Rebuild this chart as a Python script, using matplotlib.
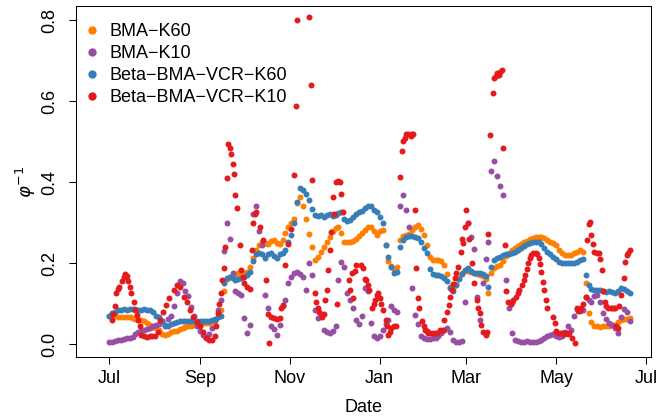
import matplotlib
matplotlib.use("Agg")
import matplotlib.pyplot as plt
from matplotlib.lines import Line2D
import numpy as np
import pandas as pd

# Season start; series are indexed by days since this date
start = pd.Timestamp("2005-07-01")

# BMA and Beta-BMA-VCR (K=60) and BMA (K=10): every second day
grid_days = np.arange(0, 356, 2)

bma_k60 = [
    0.070, 0.070, 0.069, 0.068, 0.068, 0.067, 0.067, 0.066, 0.064, 0.062,
    0.060, 0.059, 0.057, 0.052, 0.046, 0.043, 0.040, 0.034, 0.025, 0.022,
    0.025, 0.030, 0.031, 0.032, 0.036, 0.040, 0.042, 0.044, 0.045, 0.046,
    0.047, 0.049, 0.051, 0.052, 0.052, 0.054, 0.058, 0.066, 0.085, 0.130,
    0.160, 0.166, 0.168, 0.173, 0.175, 0.174, 0.176, 0.178, 0.190, 0.212,
    0.232, 0.245, 0.252, 0.250, 0.247, 0.254, 0.257, 0.250, 0.248, 0.256,
    0.275, 0.289, 0.299, 0.310, 0.348, 0.362, 0.340, 0.308, 0.272, 0.240,
    0.207, 0.214, 0.228, 0.240, 0.252, 0.264, 0.278, 0.286, 0.289, 0.275,
    0.253, 0.251, 0.252, 0.254, 0.259, 0.266, 0.274, 0.282, 0.290, 0.290,
    0.278, 0.270, 0.280, 0.282, 0.245, 0.205, 0.192, 0.185, 0.190, 0.258,
    0.268, 0.270, 0.273, 0.282, 0.288, 0.293, 0.285, 0.270, 0.245, 0.215,
    0.208, 0.207, 0.207, 0.206, 0.196, 0.172, 0.142, 0.138, 0.148, 0.162,
    0.175, 0.180, 0.180, 0.177, 0.175, 0.173, 0.170, 0.168, 0.160, 0.126,
    0.175, 0.188, 0.192, 0.195, 0.205, 0.218, 0.225, 0.232, 0.237, 0.242,
    0.247, 0.251, 0.255, 0.259, 0.261, 0.264, 0.265, 0.265, 0.262, 0.256,
    0.252, 0.249, 0.245, 0.232, 0.225, 0.220, 0.219, 0.220, 0.224, 0.228,
    0.232, 0.228, 0.150, 0.077, 0.055, 0.045, 0.044, 0.043, 0.044, 0.044,
    0.045, 0.046, 0.048, 0.055, 0.060, 0.062, 0.063, 0.064,
]

bma_k10 = [
    0.004, 0.006, 0.008, 0.010, 0.010, 0.012, 0.014, 0.016, 0.018, 0.024,
    0.030, 0.032, 0.034, 0.038, 0.040, 0.044, 0.048, 0.050, 0.058, 0.045,
    0.062, 0.070, 0.095, 0.125, 0.155, 0.150, 0.130, 0.118, 0.092, 0.070,
    0.045, 0.032, 0.022, 0.018, 0.025, 0.040, 0.060, 0.085, 0.110, 0.230,
    0.300, 0.260, 0.175, 0.132, 0.126, 0.120, 0.065, 0.028, 0.048, 0.320,
    0.340, 0.280, 0.245, 0.120, 0.088, 0.044, 0.038, 0.022, 0.046, 0.095,
    0.110, 0.150, 0.165, 0.175, 0.178, 0.172, 0.165, 0.134, 0.200, 0.170,
    0.085, 0.065, 0.075, 0.035, 0.030, 0.028, 0.032, 0.045, 0.158, 0.203,
    0.190, 0.126, 0.110, 0.089, 0.060, 0.050, 0.070, 0.138, 0.130, 0.052,
    0.019, 0.015, 0.020, 0.035, 0.050, 0.060, 0.093, 0.085, 0.080, 0.342,
    0.367, 0.330, 0.289, 0.138, 0.072, 0.050, 0.020, 0.014, 0.012, 0.012,
    0.014, 0.016, 0.020, 0.028, 0.035, 0.040, 0.030, 0.010, 0.005, 0.004,
    0.008, 0.105, 0.300, 0.265, 0.235, 0.117, 0.060, 0.150, 0.210, 0.252,
    0.428, 0.453, 0.416, 0.391, 0.367, 0.158, 0.090, 0.027, 0.010, 0.008,
    0.006, 0.006, 0.008, 0.006, 0.005, 0.006, 0.008, 0.010, 0.015, 0.019,
    0.022, 0.024, 0.020, 0.018, 0.020, 0.030, 0.044, 0.035, 0.070, 0.087,
    0.082, 0.085, 0.115, 0.110, 0.105, 0.118, 0.122, 0.105, 0.077, 0.062,
    0.052, 0.048, 0.040, 0.028, 0.068, 0.086, 0.080, 0.058,
]

beta_k60 = [
    0.070, 0.076, 0.080, 0.083, 0.085, 0.086, 0.085, 0.086, 0.087, 0.086,
    0.085, 0.085, 0.086, 0.085, 0.083, 0.078, 0.070, 0.066, 0.058, 0.046,
    0.044, 0.049, 0.053, 0.055, 0.056, 0.057, 0.056, 0.057, 0.058, 0.057,
    0.056, 0.056, 0.057, 0.058, 0.058, 0.060, 0.063, 0.066, 0.070, 0.150,
    0.163, 0.166, 0.163, 0.158, 0.160, 0.163, 0.166, 0.170, 0.178, 0.205,
    0.222, 0.226, 0.222, 0.213, 0.222, 0.226, 0.218, 0.212, 0.222, 0.224,
    0.232, 0.252, 0.270, 0.300, 0.350, 0.386, 0.380, 0.370, 0.355, 0.333,
    0.318, 0.316, 0.318, 0.314, 0.318, 0.320, 0.317, 0.319, 0.323, 0.326,
    0.310, 0.304, 0.306, 0.315, 0.322, 0.326, 0.328, 0.335, 0.340, 0.340,
    0.332, 0.326, 0.314, 0.300, 0.245, 0.215, 0.190, 0.176, 0.178, 0.240,
    0.256, 0.265, 0.268, 0.268, 0.265, 0.262, 0.252, 0.238, 0.224, 0.185,
    0.172, 0.170, 0.170, 0.168, 0.163, 0.155, 0.138, 0.132, 0.146, 0.160,
    0.174, 0.184, 0.187, 0.180, 0.175, 0.176, 0.175, 0.172, 0.167, 0.142,
    0.190, 0.208, 0.212, 0.215, 0.220, 0.222, 0.223, 0.225, 0.228, 0.233,
    0.238, 0.243, 0.246, 0.250, 0.252, 0.253, 0.252, 0.246, 0.238, 0.228,
    0.222, 0.216, 0.210, 0.203, 0.201, 0.200, 0.199, 0.200, 0.201, 0.203,
    0.207, 0.211, 0.170, 0.146, 0.137, 0.134, 0.133, 0.134, 0.130, 0.128,
    0.131, 0.128, 0.127, 0.132, 0.138, 0.135, 0.131, 0.126,
]

# Beta-BMA-VCR (K=10): days with values inside the plotted range
beta_k10_days = [
    2, 3, 4, 5, 6, 7, 9, 10, 11, 12, 13, 14, 15, 17, 18, 19, 20, 21, 22, 24,
    26, 28, 29, 31, 33, 35, 37, 39, 41, 44, 46, 48, 51, 53, 55, 57, 60, 62, 64, 66,
    68, 70, 72, 73, 74, 75, 76, 77, 78, 79, 80, 81, 82, 83, 84, 85, 86, 87, 89, 90,
    91, 92, 94, 96, 97, 98, 99, 100, 103, 105, 107, 108, 109, 110, 112, 114, 116, 117, 118, 120,
    122, 124, 126, 127, 128, 136, 137, 138, 140, 141, 142, 143, 145, 146, 147, 148, 149, 150, 151, 152,
    153, 154, 155, 156, 157, 158, 159, 163, 164, 165, 166, 167, 168, 171, 173, 174, 175, 176, 177, 179,
    180, 181, 182, 183, 184, 185, 186, 188, 189, 190, 191, 192, 194, 195, 198, 199, 200, 201, 202, 203,
    205, 206, 207, 208, 209, 210, 211, 213, 214, 215, 216, 217, 218, 220, 222, 223, 225, 227, 228, 230,
    231, 232, 233, 234, 235, 236, 237, 239, 240, 241, 242, 243, 244, 245, 247, 248, 250, 251, 252, 253,
    254, 256, 257, 258, 259, 261, 262, 263, 264, 265, 266, 267, 268, 269, 270, 271, 273, 274, 275, 277,
    278, 279, 281, 282, 283, 284, 285, 286, 287, 288, 290, 291, 292, 293, 294, 295, 296, 297, 298, 302,
    303, 304, 305, 307, 308, 309, 311, 312, 313, 315, 317, 318, 319, 320, 321, 322, 324, 325, 326, 327,
    328, 329, 330, 332, 333, 334, 335, 336, 337, 338, 339, 341, 342, 343, 344, 345, 346, 347, 348, 350,
    351, 352, 353, 354,
]
beta_k10 = [
    0.060, 0.075, 0.093, 0.126, 0.135, 0.142, 0.155, 0.166, 0.173, 0.168, 0.155, 0.142, 0.126, 0.105, 0.085, 0.072, 0.060, 0.044, 0.022, 0.019,
    0.018, 0.020, 0.019, 0.019, 0.030, 0.060, 0.080, 0.097, 0.114, 0.134, 0.146, 0.140, 0.117, 0.104, 0.085, 0.068, 0.055, 0.045, 0.030, 0.015,
    0.011, 0.011, 0.020, 0.045, 0.077, 0.100, 0.126, 0.158, 0.187, 0.240, 0.410, 0.494, 0.485, 0.470, 0.445, 0.420, 0.367, 0.337, 0.244, 0.183,
    0.165, 0.150, 0.140, 0.135, 0.232, 0.300, 0.322, 0.325, 0.290, 0.256, 0.158, 0.075, 0.003, 0.068, 0.065, 0.062, 0.065, 0.090, 0.097, 0.195,
    0.248, 0.285, 0.418, 0.588, 0.800, 0.809, 0.641, 0.405, 0.126, 0.105, 0.090, 0.080, 0.068, 0.075, 0.110, 0.134, 0.183, 0.232, 0.277, 0.363,
    0.322, 0.400, 0.100, 0.402, 0.400, 0.371, 0.326, 0.158, 0.134, 0.175, 0.113, 0.180, 0.195, 0.195, 0.187, 0.160, 0.158, 0.145, 0.134, 0.089,
    0.100, 0.110, 0.120, 0.126, 0.113, 0.100, 0.085, 0.060, 0.045, 0.023, 0.030, 0.040, 0.045, 0.045, 0.412, 0.477, 0.502, 0.510, 0.518, 0.520,
    0.515, 0.520, 0.518, 0.330, 0.187, 0.113, 0.089, 0.056, 0.045, 0.035, 0.031, 0.028, 0.027, 0.027, 0.027, 0.028, 0.035, 0.035, 0.060, 0.080,
    0.097, 0.115, 0.134, 0.148, 0.162, 0.175, 0.190, 0.228, 0.260, 0.250, 0.290, 0.330, 0.298, 0.260, 0.200, 0.150, 0.109, 0.090, 0.077, 0.048,
    0.030, 0.023, 0.030, 0.273, 0.517, 0.620, 0.657, 0.662, 0.670, 0.665, 0.672, 0.678, 0.485, 0.244, 0.130, 0.105, 0.100, 0.103, 0.110, 0.115,
    0.126, 0.134, 0.146, 0.158, 0.170, 0.185, 0.200, 0.212, 0.220, 0.224, 0.224, 0.222, 0.212, 0.198, 0.179, 0.154, 0.134, 0.109, 0.089, 0.068,
    0.052, 0.031, 0.028, 0.027, 0.028, 0.026, 0.027, 0.025, 0.027, 0.015, 0.003, 0.089, 0.082, 0.085, 0.090, 0.100, 0.115, 0.256, 0.297, 0.301,
    0.270, 0.248, 0.228, 0.226, 0.224, 0.210, 0.183, 0.130, 0.105, 0.095, 0.089, 0.090, 0.090, 0.088, 0.089, 0.044, 0.040, 0.093, 0.120, 0.162,
    0.203, 0.220, 0.225, 0.232,
]

labels = ["BMA\u2212K60", "BMA\u2212K10", "Beta\u2212BMA\u2212VCR\u2212K60", "Beta\u2212BMA\u2212VCR\u2212K10"]
colors = ["#FF7F00", "#984EA3", "#377EB8", "#E41A1C"]

tick_dates = pd.to_datetime(["2005-07-01", "2005-09-01", "2005-11-01", "2006-01-01",
                             "2006-03-01", "2006-05-01", "2006-07-01"])
tick_labels = ["Jul", "Sep", "Nov", "Jan", "Mar", "May", "Jul"]
y_ticks = [0.0, 0.2, 0.4, 0.6, 0.8]


def to_dates(days):
    return start + pd.to_timedelta(np.asarray(days), unit="D")


plt.rcParams["font.family"] = ["Liberation Sans", "DejaVu Sans"]
plt.rcParams["font.size"] = 13

fig = plt.figure(figsize=(6.56, 4.17), dpi=100)
ax = fig.add_axes([0.1159, 0.1439, 0.8772, 0.8417])

series = [
    (grid_days, bma_k60),
    (grid_days, bma_k10),
    (grid_days, beta_k60),
    (beta_k10_days, beta_k10),
]
for (days, vals), col in zip(series, colors):
    ax.plot(to_dates(days), vals, "o", ms=4.3, mew=0, color=col, ls="none")

ax.set_xlim(start - pd.Timedelta(days=22.4), start + pd.Timedelta(days=368.8))
ax.set_ylim(-0.032, 0.835)

ax.set_xticks(tick_dates)
ax.set_xticklabels(tick_labels)
ax.set_yticks(y_ticks)
ax.set_yticklabels([f"{v:.1f}" for v in y_ticks], rotation=90, va="center")

ax.tick_params(axis="both", direction="out", length=5, width=0.75, color="black")
ax.tick_params(axis="x", pad=4.5)
ax.tick_params(axis="y", pad=7.5)
for sp in ax.spines.values():
    sp.set_linewidth(0.75)
    sp.set_color("black")

ax.set_xlabel("Date")
ax.xaxis.set_label_coords(0.5, -0.12)
ax.set_ylabel(r"$\varphi^{-1}$", rotation=90)
ax.yaxis.set_label_coords(-0.066, 0.5)

handles = [Line2D([], [], marker="o", ls="none", ms=6, mew=0, color=c) for c in colors]
ax.legend(handles, labels, loc="upper left", bbox_to_anchor=(0.1274, 0.945),
          bbox_transform=fig.transFigure, frameon=False, borderpad=0,
          borderaxespad=0, handlelength=0.9, handletextpad=0.52, labelspacing=0.28)

fig.savefig("out.png", dpi=100)
